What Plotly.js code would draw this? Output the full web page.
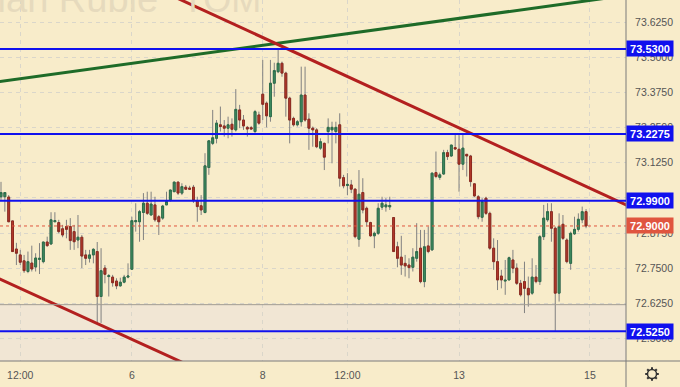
<!DOCTYPE html>
<html>
<head>
<meta charset="utf-8">
<script src="https://cdn.plot.ly/plotly-3.0.1.min.js"></script>
<style>
  html, body { margin: 0; padding: 0; background: #f8ecca; }
  #chart { width: 680px; height: 387px; }
</style>
</head>
<body>
<div id="chart"></div>
<script>
// ---- Data ----
const tickIdx  = [5, 34, 68, 90, 119, 153];
const tickText = ['12:00', '6', '8', '12:00', '13', '15'];

const openP = [
73.004,73.004,73.003,72.918,72.818,72.797,72.776,72.738,72.768,72.754,
72.781,72.773,72.843,72.836,72.915,72.912,72.890,72.898,72.898,72.880,
72.850,72.860,72.797,72.785,72.797,72.809,72.649,72.750,72.720,72.718,
72.704,72.687,72.700,72.718,72.746,72.915,72.915,72.948,72.981,72.939,
72.975,72.933,72.928,72.975,72.993,73.022,73.056,73.017,73.038,73.035,
73.038,72.990,72.972,72.948,73.108,73.194,73.212,73.260,73.256,73.248,
73.262,73.242,73.313,73.277,73.251,73.250,73.236,73.295,73.369,73.337,
73.289,73.408,73.449,73.479,73.444,73.355,73.283,73.260,73.271,73.366,
73.280,73.248,73.242,73.177,73.194,73.236,73.242,73.236,73.260,73.072,
73.044,73.046,73.031,72.853,73.019,72.963,72.912,72.865,72.874,72.967,
72.968,72.968,72.930,72.826,72.789,72.767,72.761,72.753,72.785,72.821,
72.702,72.829,72.815,73.090,73.073,73.085,73.161,73.149,73.179,73.173,
73.120,73.155,73.149,73.050,73.004,72.931,72.999,72.945,72.821,72.773,
72.722,72.704,72.708,72.779,72.750,72.696,72.702,72.678,72.661,72.718,
72.702,72.862,72.922,72.951,72.892,72.661,72.906,72.850,72.767,72.872,
72.888,72.922,72.951];
const highP = [
73.057,73.019,73.010,72.918,72.840,72.815,72.797,72.809,72.830,72.803,
72.839,72.843,72.862,72.949,72.949,72.922,72.904,72.922,72.928,72.904,
72.939,72.868,72.815,72.815,72.821,72.843,72.821,72.761,72.729,72.726,
72.714,72.716,72.726,72.767,72.933,72.981,72.957,73.017,73.022,73.022,
73.004,72.939,72.975,73.022,73.028,73.058,73.058,73.052,73.046,73.043,
73.046,73.004,73.010,73.159,73.206,73.313,73.277,73.325,73.277,73.289,
73.283,73.387,73.331,73.295,73.256,73.256,73.313,73.307,73.491,73.343,
73.491,73.481,73.527,73.485,73.449,73.360,73.289,73.277,73.467,73.467,
73.301,73.254,73.248,73.212,73.197,73.283,73.271,73.271,73.301,73.082,
73.088,73.064,73.034,73.099,73.070,72.969,72.915,72.880,72.981,73.004,
72.999,73.004,72.930,72.844,72.865,72.797,72.785,72.821,72.910,72.886,
72.886,72.898,73.090,73.165,73.090,73.171,73.171,73.188,73.230,73.224,
73.224,73.155,73.153,73.052,73.010,72.999,73.004,72.951,72.856,72.850,
72.744,72.779,72.791,72.815,72.767,72.708,72.773,72.720,72.785,72.761,
72.868,72.975,72.981,72.981,72.898,72.945,72.939,72.856,72.880,72.933,
72.945,72.969,72.960];
const lowP = [
72.993,72.951,72.914,72.808,72.761,72.761,72.733,72.732,72.738,72.738,
72.729,72.767,72.826,72.833,72.915,72.874,72.860,72.856,72.815,72.815,
72.821,72.750,72.761,72.770,72.767,72.555,72.555,72.696,72.649,72.684,
72.675,72.684,72.696,72.714,72.744,72.880,72.844,72.850,72.939,72.939,
72.915,72.868,72.922,72.975,72.987,73.022,73.010,73.010,73.028,73.028,
72.982,72.915,72.939,72.945,73.082,73.188,73.194,73.236,73.218,73.212,
73.218,73.236,73.248,73.242,73.218,73.242,73.230,73.260,73.277,73.251,
73.271,73.360,73.444,73.431,73.289,73.194,73.254,73.254,73.254,73.271,
73.171,73.182,73.177,73.171,73.099,73.194,73.123,73.194,73.040,73.034,
73.010,73.017,72.856,72.826,72.945,72.898,72.862,72.821,72.868,72.957,
72.951,72.957,72.809,72.753,72.726,72.720,72.714,72.738,72.773,72.696,
72.682,72.803,72.812,73.070,73.064,73.082,73.135,73.147,73.171,73.022,
73.099,73.076,73.040,73.004,72.924,72.915,72.939,72.815,72.744,72.672,
72.678,72.655,72.708,72.732,72.690,72.649,72.590,72.613,72.655,72.696,
72.690,72.850,72.915,72.844,72.527,72.631,72.850,72.767,72.744,72.868,
72.880,72.910,72.892];
const closeP = [
73.019,73.019,72.915,72.809,72.803,72.771,72.741,72.773,72.747,72.786,
72.785,72.843,72.830,72.922,72.919,72.880,72.868,72.888,72.848,72.844,
72.860,72.793,72.785,72.797,72.817,72.649,72.741,72.728,72.723,72.698,
72.687,72.700,72.718,72.722,72.919,72.919,72.951,72.981,72.945,72.978,
72.922,72.915,72.971,72.987,73.028,73.056,73.017,73.040,73.031,73.031,
72.990,72.969,72.957,73.114,73.203,73.214,73.266,73.254,73.248,73.260,
73.244,73.315,73.277,73.256,73.245,73.245,73.307,73.266,73.333,73.292,
73.408,73.453,73.479,73.444,73.355,73.277,73.260,73.271,73.366,73.277,
73.248,73.242,73.182,73.200,73.145,73.251,73.251,73.251,73.070,73.043,
73.048,73.031,72.862,73.013,72.957,72.915,72.865,72.874,72.963,72.981,
72.975,72.973,72.809,72.785,72.761,72.758,72.752,72.789,72.809,72.702,
72.826,72.809,73.088,73.076,73.082,73.161,73.147,73.188,73.174,73.120,
73.177,73.149,73.058,73.007,72.933,72.987,72.945,72.821,72.773,72.708,
72.708,72.707,72.787,72.750,72.696,72.655,72.678,72.655,72.718,72.702,
72.862,72.928,72.951,72.892,72.661,72.898,72.856,72.773,72.874,72.888,
72.924,72.951,72.900];

const levels      = [73.53, 73.2275, 72.99, 72.525];
const levelLabels = ['73.5300', '73.2275', '72.9900', '72.5250'];
const lastPrice = 72.90;
const lastLabel = '72.9000';
const zoneTop = 72.62;

const greenLineX = [-2, 160],   greenLineY = [73.411, 73.716];
const redUpperX  = [44, 164],   redUpperY  = [73.722, 72.965];
const redLowerX  = [-2, 48],    redLowerY  = [72.722, 72.409];

const watermark1 = 'Russian Ruble';
const watermark2 = 'TOM';

// ---- Build ----
const xIdx = openP.map((_, i) => i);
const bodyHigh = openP.map((o, i) => Math.max(o, closeP[i]));
const bodyLow  = openP.map((o, i) => Math.min(o, closeP[i]));

const FONT = 'Liberation Sans, Arial, sans-serif';
const BG = '#f8ecca';
const wick = '#808080';

const traces = [
  { type: 'candlestick', x: xIdx, open: openP, high: highP, low: lowP, close: closeP,
    increasing: { line: { color: wick, width: 1 }, fillcolor: wick },
    decreasing: { line: { color: wick, width: 1 }, fillcolor: wick },
    hoverinfo: 'skip', showlegend: false },
  { type: 'candlestick', x: xIdx, open: openP, high: bodyHigh, low: bodyLow, close: closeP,
    increasing: { line: { color: '#2c6e4a', width: 1 }, fillcolor: '#3f8d61' },
    decreasing: { line: { color: '#8f2a1f', width: 1 }, fillcolor: '#b53a2c' },
    hoverinfo: 'skip', showlegend: false },
  { type: 'scatter', mode: 'lines', x: greenLineX, y: greenLineY,
    line: { color: '#1e6b28', width: 3 }, hoverinfo: 'skip', showlegend: false },
  { type: 'scatter', mode: 'lines', x: redUpperX, y: redUpperY,
    line: { color: '#b3201f', width: 3 }, hoverinfo: 'skip', showlegend: false },
  { type: 'scatter', mode: 'lines', x: redLowerX, y: redLowerY,
    line: { color: '#b3201f', width: 3 }, hoverinfo: 'skip', showlegend: false }
];

const shapes = [
  { type: 'rect', xref: 'paper', x0: 0, x1: 1, yref: 'y', y0: 72.3, y1: zoneTop,
    fillcolor: '#f1e6d4', line: { width: 0 }, layer: 'below' },
  { type: 'line', xref: 'paper', x0: 0, x1: 1, yref: 'y', y0: zoneTop, y1: zoneTop,
    line: { color: '#a09c94', width: 1 } },
  { type: 'line', xref: 'paper', x0: 0, x1: 1, yref: 'y', y0: lastPrice, y1: lastPrice,
    line: { color: '#e0553f', width: 1, dash: 'dot' } },
  { type: 'line', xref: 'paper', x0: 1, x1: 1, yref: 'paper', y0: -0.08, y1: 1,
    line: { color: '#7a7a7a', width: 1 } },
  { type: 'line', xref: 'paper', x0: 0, x1: 1.1, yref: 'paper', y0: 0, y1: 0,
    line: { color: '#7a7a7a', width: 1 } }
];
levels.forEach(l => shapes.push({ type: 'line', xref: 'paper', x0: 0, x1: 1, yref: 'y', y0: l, y1: l,
  line: { color: '#1010ee', width: 2 } }));

// gear icon (decoration)
const gx = 652 / 626, gy = (361 - 374) / 361;
const pxX = 1 / 626, pxY = 1 / 361;
shapes.push({ type: 'circle', xref: 'paper', yref: 'paper',
  x0: gx - 4.5 * pxX, x1: gx + 4.5 * pxX, y0: gy - 4.5 * pxY, y1: gy + 4.5 * pxY,
  line: { color: '#333', width: 1.5 } });
for (let k = 0; k < 8; k++) {
  const a = k * Math.PI / 4;
  shapes.push({ type: 'line', xref: 'paper', yref: 'paper',
    x0: gx + Math.cos(a) * 4.5 * pxX, x1: gx + Math.cos(a) * 6.8 * pxX,
    y0: gy + Math.sin(a) * 4.5 * pxY, y1: gy + Math.sin(a) * 6.8 * pxY,
    line: { color: '#333', width: 2 } });
}

const annotations = [
  { xref: 'paper', x: 160 / 626, xanchor: 'right', yref: 'paper', y: 1, yanchor: 'bottom', yshift: -22,
    text: watermark1, showarrow: false, font: { family: FONT, size: 38, color: '#e6dabd' } },
  { xref: 'paper', x: 180 / 626, xanchor: 'left', yref: 'paper', y: 1, yanchor: 'bottom', yshift: -22,
    text: watermark2, showarrow: false, font: { family: FONT, size: 36, color: '#e6dabd' } }
];
levels.forEach((l, i) => annotations.push({
  xref: 'paper', x: 1, xanchor: 'left', yref: 'y', y: l, yanchor: 'middle',
  text: '<b>' + levelLabels[i] + '</b>', showarrow: false, bgcolor: '#1010ee',
  font: { family: FONT, size: 11, color: '#ffffff' }, width: 44, height: 13, borderpad: 1
}));
annotations.push({
  xref: 'paper', x: 1, xanchor: 'left', yref: 'y', y: lastPrice, yanchor: 'middle',
  text: '<b>' + lastLabel + '</b>', showarrow: false, bgcolor: '#e0553f',
  font: { family: FONT, size: 11, color: '#ffffff' }, width: 44, height: 13, borderpad: 1
});

const layout = {
  width: 680, height: 387,
  margin: { l: 0, r: 54, t: 0, b: 26, pad: 0 },
  paper_bgcolor: BG, plot_bgcolor: BG,
  showlegend: false, hovermode: false, dragmode: false,
  xaxis: {
    range: [-0.26, 162.38], rangeslider: { visible: false },
    tickvals: tickIdx, ticktext: tickText,
    ticks: 'outside', ticklen: 4, tickcolor: 'rgba(0,0,0,0)',
    tickfont: { family: FONT, size: 10.5, color: '#555' },
    showgrid: true, gridcolor: '#dad6ca', griddash: '4px,4px', gridwidth: 1,
    zeroline: false, showline: false, fixedrange: true
  },
  yaxis: {
    side: 'right', range: [72.4195, 73.7042],
    tick0: 72.5, dtick: 0.125, tickformat: '.4f',
    ticks: 'outside', ticklen: 6, tickcolor: 'rgba(0,0,0,0)',
    tickfont: { family: FONT, size: 10.5, color: '#555' },
    showgrid: true, gridcolor: '#dad6ca', griddash: '4px,4px', gridwidth: 1,
    zeroline: false, showline: false, fixedrange: true
  },
  shapes: shapes,
  annotations: annotations
};

Plotly.newPlot('chart', traces, layout, { staticPlot: true, displayModeBar: false });
</script>
</body>
</html>
